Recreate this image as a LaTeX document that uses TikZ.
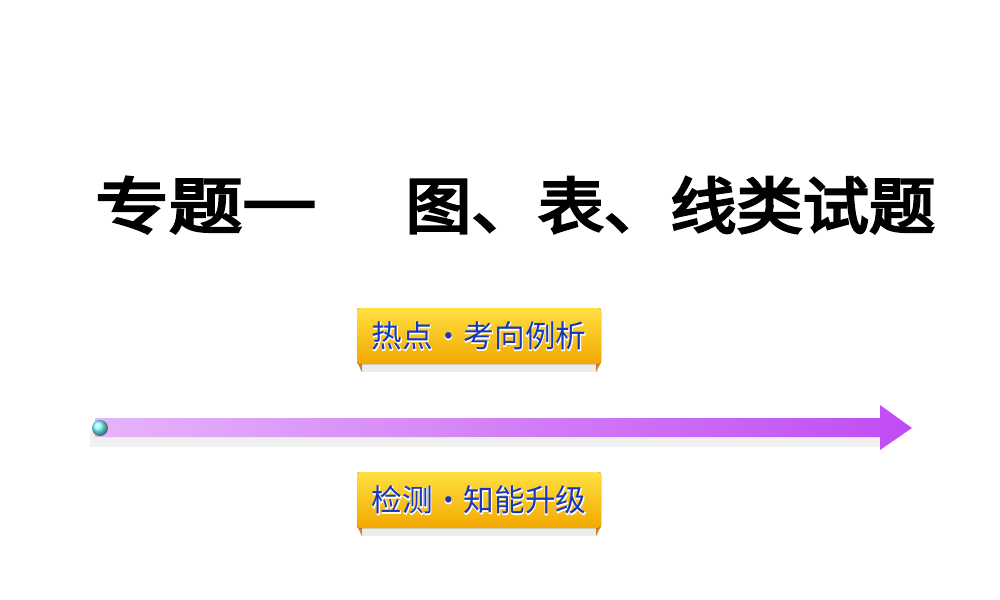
\documentclass[tikz,border=0pt]{standalone}
\usepackage{fontspec}
\newfontfamily\cjk{Noto Sans CJK SC}
\newfontfamily\cjkb[FakeBold=4]{Noto Sans CJK SC}
\definecolor{arrA}{HTML}{E6B4FA}
\definecolor{arrB}{HTML}{C04CF4}
\definecolor{gold1}{HTML}{FFE040}
\definecolor{gold2}{HTML}{F2A800}
\definecolor{txtblue}{HTML}{1838B8}
\begin{document}
\begin{tikzpicture}[x=0.75pt,y=-0.75pt,
  title/.style={font=\cjkb\fontsize{46}{50}\selectfont, text=black, inner sep=0},
  bantext/.style={font=\cjk\fontsize{23}{25}\selectfont, text=txtblue, inner sep=0},
  banner/.style={top color=gold1, bottom color=gold2, draw=none, rounded corners=2pt}]
\useasboundingbox (0,0) rectangle (1000,600);
\fill[white] (0,0) rectangle (1000,600);
\node[title, anchor=west, xscale=1.2] (t1) at (95,205) {专题一};
\node[title, anchor=west, xscale=1.08] (t2) at (405,205) {图、表、线类试题};
% banners
\foreach \y/\txt/\nm in {308/热点·考向例析/b1, 472/检测·知能升级/b2}{
  \fill[gray!15] (360,\y+54) rectangle (598,\y+64);
  \fill[brown!70!orange] (357,\y+54) -- (362,\y+54) -- (362,\y+64) -- cycle;
  \fill[brown!70!orange] (601,\y+54) -- (596,\y+54) -- (596,\y+64) -- cycle;
  \fill[banner] (357,\y) rectangle (601,\y+56);
  \node[bantext, text=white, draw=white, line width=0pt] at (479,\y+28) {};
  \node[bantext, font=\cjkb\fontsize{23}{25}\selectfont, text=white] at (479,\y+28.5) {\txt};
  \node[bantext] (\nm) at (479,\y+28) {\txt};
}
% arrow
\fill[gray!12] (90,432) rectangle (885,447);
\shade[left color=arrA, right color=arrB]
  (95,418) -- (880,418) -- (880,405) -- (912,428) -- (880,450) -- (880,437) -- (95,437) -- cycle;
\shade[ball color=cyan!50!white] (100,428) circle (8);
\end{tikzpicture}
\end{document}
